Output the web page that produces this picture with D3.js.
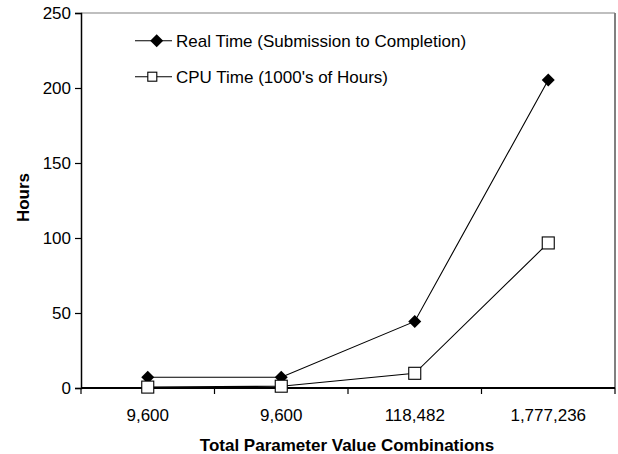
<!DOCTYPE html>
<html><head><meta charset="utf-8">
<script src="https://cdn.jsdelivr.net/npm/d3@7"></script>
<style>
body{margin:0;background:#fff;}
svg{display:block;font-family:"Liberation Sans",Arial,Helvetica,sans-serif;}
</style></head>
<body>
<script>
const categories = ["9,600", "9,600", "118,482", "1,777,236"];
const realTime = [7.2, 7.2, 44.4, 205.3];
const cpuTime = [0.6, 1.2, 9.8, 96.7];
const yTicks = [0, 50, 100, 150, 200, 250];
const seriesNames = ["Real Time (Submission to Completion)", "CPU Time (1000's of Hours)"];
const yTitle = "Hours";
const xTitle = "Total Parameter Value Combinations";

const W = 618, H = 454;
const L = 81, R = 615, T = 13, B = 388;
const svg = d3.select("body").append("svg").attr("width", W).attr("height", H);

const idx = categories.map((d, i) => i);
const x = d3.scaleBand().domain(idx).range([L, R]);
const y = d3.scaleLinear().domain([0, 250]).range([B, T]);
const cx = i => x(i) + x.bandwidth() / 2;

// plot area border (top/right)
svg.append("line").attr("x1", L).attr("x2", R).attr("y1", T).attr("y2", T)
  .attr("stroke", "#808080").attr("stroke-width", 1.2);
svg.append("line").attr("x1", R).attr("x2", R).attr("y1", T).attr("y2", B)
  .attr("stroke", "#808080").attr("stroke-width", 2);

// y axis
const ya = svg.append("g").attr("transform", `translate(${L},0)`)
  .call(d3.axisLeft(y).tickValues(yTicks).tickSize(6).tickPadding(4).tickFormat(d3.format("d")));
ya.select(".domain").attr("stroke", "#000").attr("stroke-width", 1.5);
ya.selectAll(".tick line").attr("stroke", "#000").attr("stroke-width", 1.2);
ya.selectAll("text").attr("font-size", 17).attr("fill", "#000").attr("font-family", "Liberation Sans, Arial, sans-serif");

// x axis
const xa = svg.append("g").attr("transform", `translate(0,${B})`)
  .call(d3.axisBottom(x).tickSize(0).tickPadding(21).tickFormat(i => categories[i]));
xa.select(".domain").remove();
xa.selectAll("text").attr("font-size", 17).attr("fill", "#000").attr("font-family", "Liberation Sans, Arial, sans-serif");
const bounds = idx.map(i => x(i)).concat([x.range()[1]]);
svg.append("line").attr("x1", L).attr("x2", R).attr("y1", B).attr("y2", B)
  .attr("stroke", "#000").attr("stroke-width", 2);
svg.selectAll(".xt").data(bounds).enter().append("line")
  .attr("x1", d => d).attr("x2", d => d).attr("y1", B).attr("y2", B + 6)
  .attr("stroke", "#000").attr("stroke-width", 1.2);

// titles
svg.append("text").attr("transform", `translate(29,${(T + B) / 2 - 3}) rotate(-90)`)
  .attr("text-anchor", "middle").attr("font-size", 17).attr("font-weight", "bold").text(yTitle);
svg.append("text").attr("x", (L + R) / 2 - 1).attr("y", 451)
  .attr("text-anchor", "middle").attr("font-size", 17).attr("font-weight", "bold").text(xTitle);

// lines
const line = d3.line().x((d, i) => cx(i)).y(d => y(d));
svg.append("path").datum(cpuTime).attr("d", line).attr("fill", "none").attr("stroke", "#000").attr("stroke-width", 1.1);
svg.append("path").datum(realTime).attr("d", line).attr("fill", "none").attr("stroke", "#000").attr("stroke-width", 1.1);

const diamond = (g, px, py, r) => g.append("path")
  .attr("d", `M${px},${py - r}L${px + r},${py}L${px},${py + r}L${px - r},${py}Z`).attr("fill", "#000");

realTime.forEach((v, i) => diamond(svg, cx(i), y(v), 6.5));
svg.selectAll(".sq").data(cpuTime).enter().append("rect")
  .attr("x", (d, i) => cx(i) - 6).attr("y", d => y(d) - 6)
  .attr("width", 12).attr("height", 12).attr("fill", "#fff").attr("stroke", "#000").attr("stroke-width", 1.1);

// legend
const lg = svg.append("g");
const rows = [40.7, 76.7];
lg.append("line").attr("x1", 135).attr("x2", 172).attr("y1", rows[0]).attr("y2", rows[0]).attr("stroke", "#000").attr("stroke-width", 1.1);
diamond(lg, 156.7, rows[0], 6.5);
lg.append("line").attr("x1", 135).attr("x2", 172).attr("y1", rows[1]).attr("y2", rows[1]).attr("stroke", "#000").attr("stroke-width", 1.1);
lg.append("rect").attr("x", 152.3 - 4.5).attr("y", rows[1] - 4.5).attr("width", 9).attr("height", 9)
  .attr("fill", "#fff").attr("stroke", "#000").attr("stroke-width", 1.1);
seriesNames.forEach((s, i) => lg.append("text").attr("x", 176).attr("y", rows[i]).attr("dy", "0.35em")
  .attr("font-size", 17).text(s));
</script>
</body></html>
